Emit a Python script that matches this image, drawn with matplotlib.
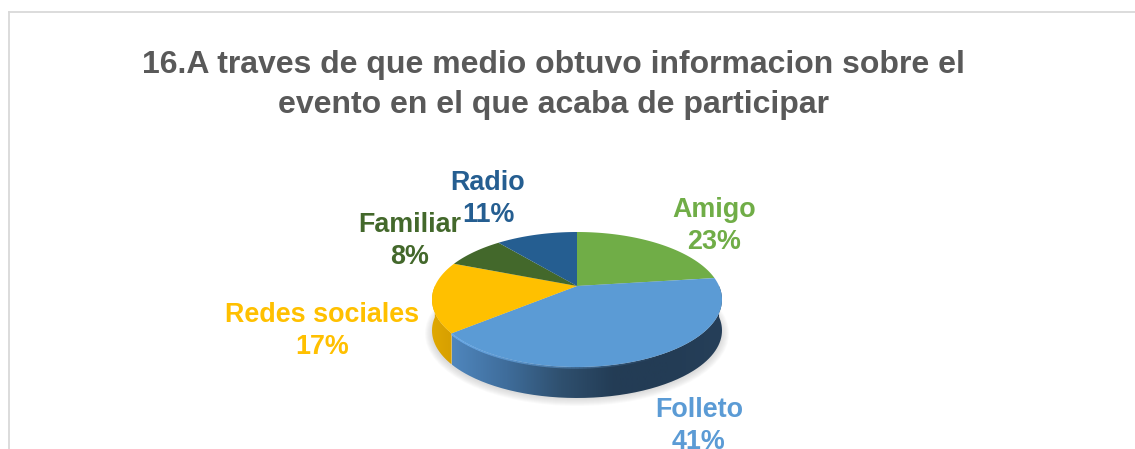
import numpy as np
import matplotlib
matplotlib.use("Agg")
import matplotlib.pyplot as plt
from matplotlib.colors import LinearSegmentedColormap
from matplotlib.patches import PathPatch, Ellipse
from matplotlib.path import Path

plt.rcParams['font.family'] = ['Liberation Sans', 'DejaVu Sans']

categories = ['Amigo', 'Folleto', 'Redes sociales', 'Familiar', 'Radio']
values = [23, 41, 17, 8, 11]
percent_labels = ['23%', '41%', '17%', '8%', '11%']
title = '16.A traves de que medio obtuvo informacion sobre el\nevento en el que acaba de participar'

colors = ['#70AD47', '#5B9BD5', '#FFC000', '#43682B', '#255E91']
# the bottom label runs off the picture's lower edge in the original as well
label_pos = [(714, 226), (699, 426), (322, 330.5), (410, 240.5), (488, 199.5)]

# ellipse of the top face, in pixels of the picture
CX, CY, RX, RY = 577, 299.5, 145, 67.5
DEPTH = 31
TILT = 0.2   # how far the pie centre sits above the ellipse centre, in RY


def project(theta):
    # theta clockwise from 12 o'clock, circle seen in perspective
    u = np.sin(theta)
    v = np.cos(theta)
    d = 1 + TILT * v
    return CX + RX * u * np.sqrt(1 - TILT ** 2) / d, CY - RY * (v + TILT) / d


def centre():
    return CX, CY - RY * TILT


def wall_path(t1, t2, depth):
    ts = np.linspace(t1, t2, 200)
    x, y = project(ts)
    px = np.concatenate([x, x[::-1]])
    py = np.concatenate([y, y[::-1] + depth])
    return Path(np.column_stack([px, py]))


def draw_wall(ax, t1, t2, cmap, x0, x1):
    grad = np.linspace(0, 1, 256).reshape(1, -1)
    img = ax.imshow(grad, cmap=cmap, extent=(x0, x1, 449, 0), aspect='auto', zorder=3)
    patch = PathPatch(wall_path(t1, t2, DEPTH), transform=ax.transData, fc='none', ec='none')
    ax.add_patch(patch)
    img.set_clip_path(patch)


def main():
    fig = plt.figure(figsize=(11.35, 4.49), dpi=100)
    ax = fig.add_axes([0, 0, 1, 1])

    # chart frame, only top and left show up
    ax.plot([9, 1135], [11.5, 11.5], color='#d9d9d9', lw=1.3, zorder=1)
    ax.plot([9, 9], [11.5, 449], color='#d9d9d9', lw=1.3, zorder=1)

    ax.text(553, 85, title, ha='center', va='center', fontsize=23, fontweight='bold',
            color='#595959', linespacing=1.46)

    # soft shadow under the pie
    for k in range(8):
        ax.add_patch(Ellipse((CX, CY + DEPTH + 3), 2 * RX + 14 - 2 * k, 2 * RY + 10 - 2 * k,
                             fc='#808080', ec='none', alpha=0.035, zorder=2))

    fracs = np.cumsum(values) / np.sum(values)
    edges = np.concatenate([[0], fracs]) * 2 * np.pi

    # side walls, only the front half of the pie can be seen
    folleto_cmap = LinearSegmentedColormap.from_list(
        'folleto', ['#4f86bd', '#3f6d9b', '#2f506f', '#233c55', '#233c55', '#263f59'])
    redes_cmap = LinearSegmentedColormap.from_list('redes', ['#e0a800', '#d69f00'])
    xa, _ = project(edges[2])
    draw_wall(ax, np.pi / 2, edges[2], folleto_cmap, xa, CX + RX)
    draw_wall(ax, edges[2], 1.5 * np.pi, redes_cmap, CX - RX, xa)

    # top face
    for i in range(len(values)):
        ts = np.linspace(edges[i], edges[i + 1], 200)
        x, y = project(ts)
        cx0, cy0 = centre()
        ax.fill(np.r_[cx0, x], np.r_[cy0, y], color=colors[i], lw=0, zorder=4)

    # bevel on the rim of the front slice, fades out to the right
    ts = np.linspace(edges[2], np.pi * 0.85, 60)
    x, y = project(ts)
    for k in range(len(ts) - 1):
        ax.plot(x[k:k + 2], y[k:k + 2] + 0.8, color='#6fb0ee', lw=1.3,
                alpha=0.9 * (1 - k / len(ts)), solid_capstyle='butt', zorder=5)

    for i in range(len(categories)):
        ax.text(label_pos[i][0], label_pos[i][1], categories[i] + '\n' + percent_labels[i],
                ha='center', va='center', fontsize=19.4, fontweight='bold', color=colors[i],
                linespacing=1.3, zorder=6)

    ax.set_xlim(0, 1135)
    ax.set_ylim(449, 0)
    ax.axis('off')
    fig.savefig('out.png', dpi=100, facecolor='white')


if __name__ == "__main__":
    main()
